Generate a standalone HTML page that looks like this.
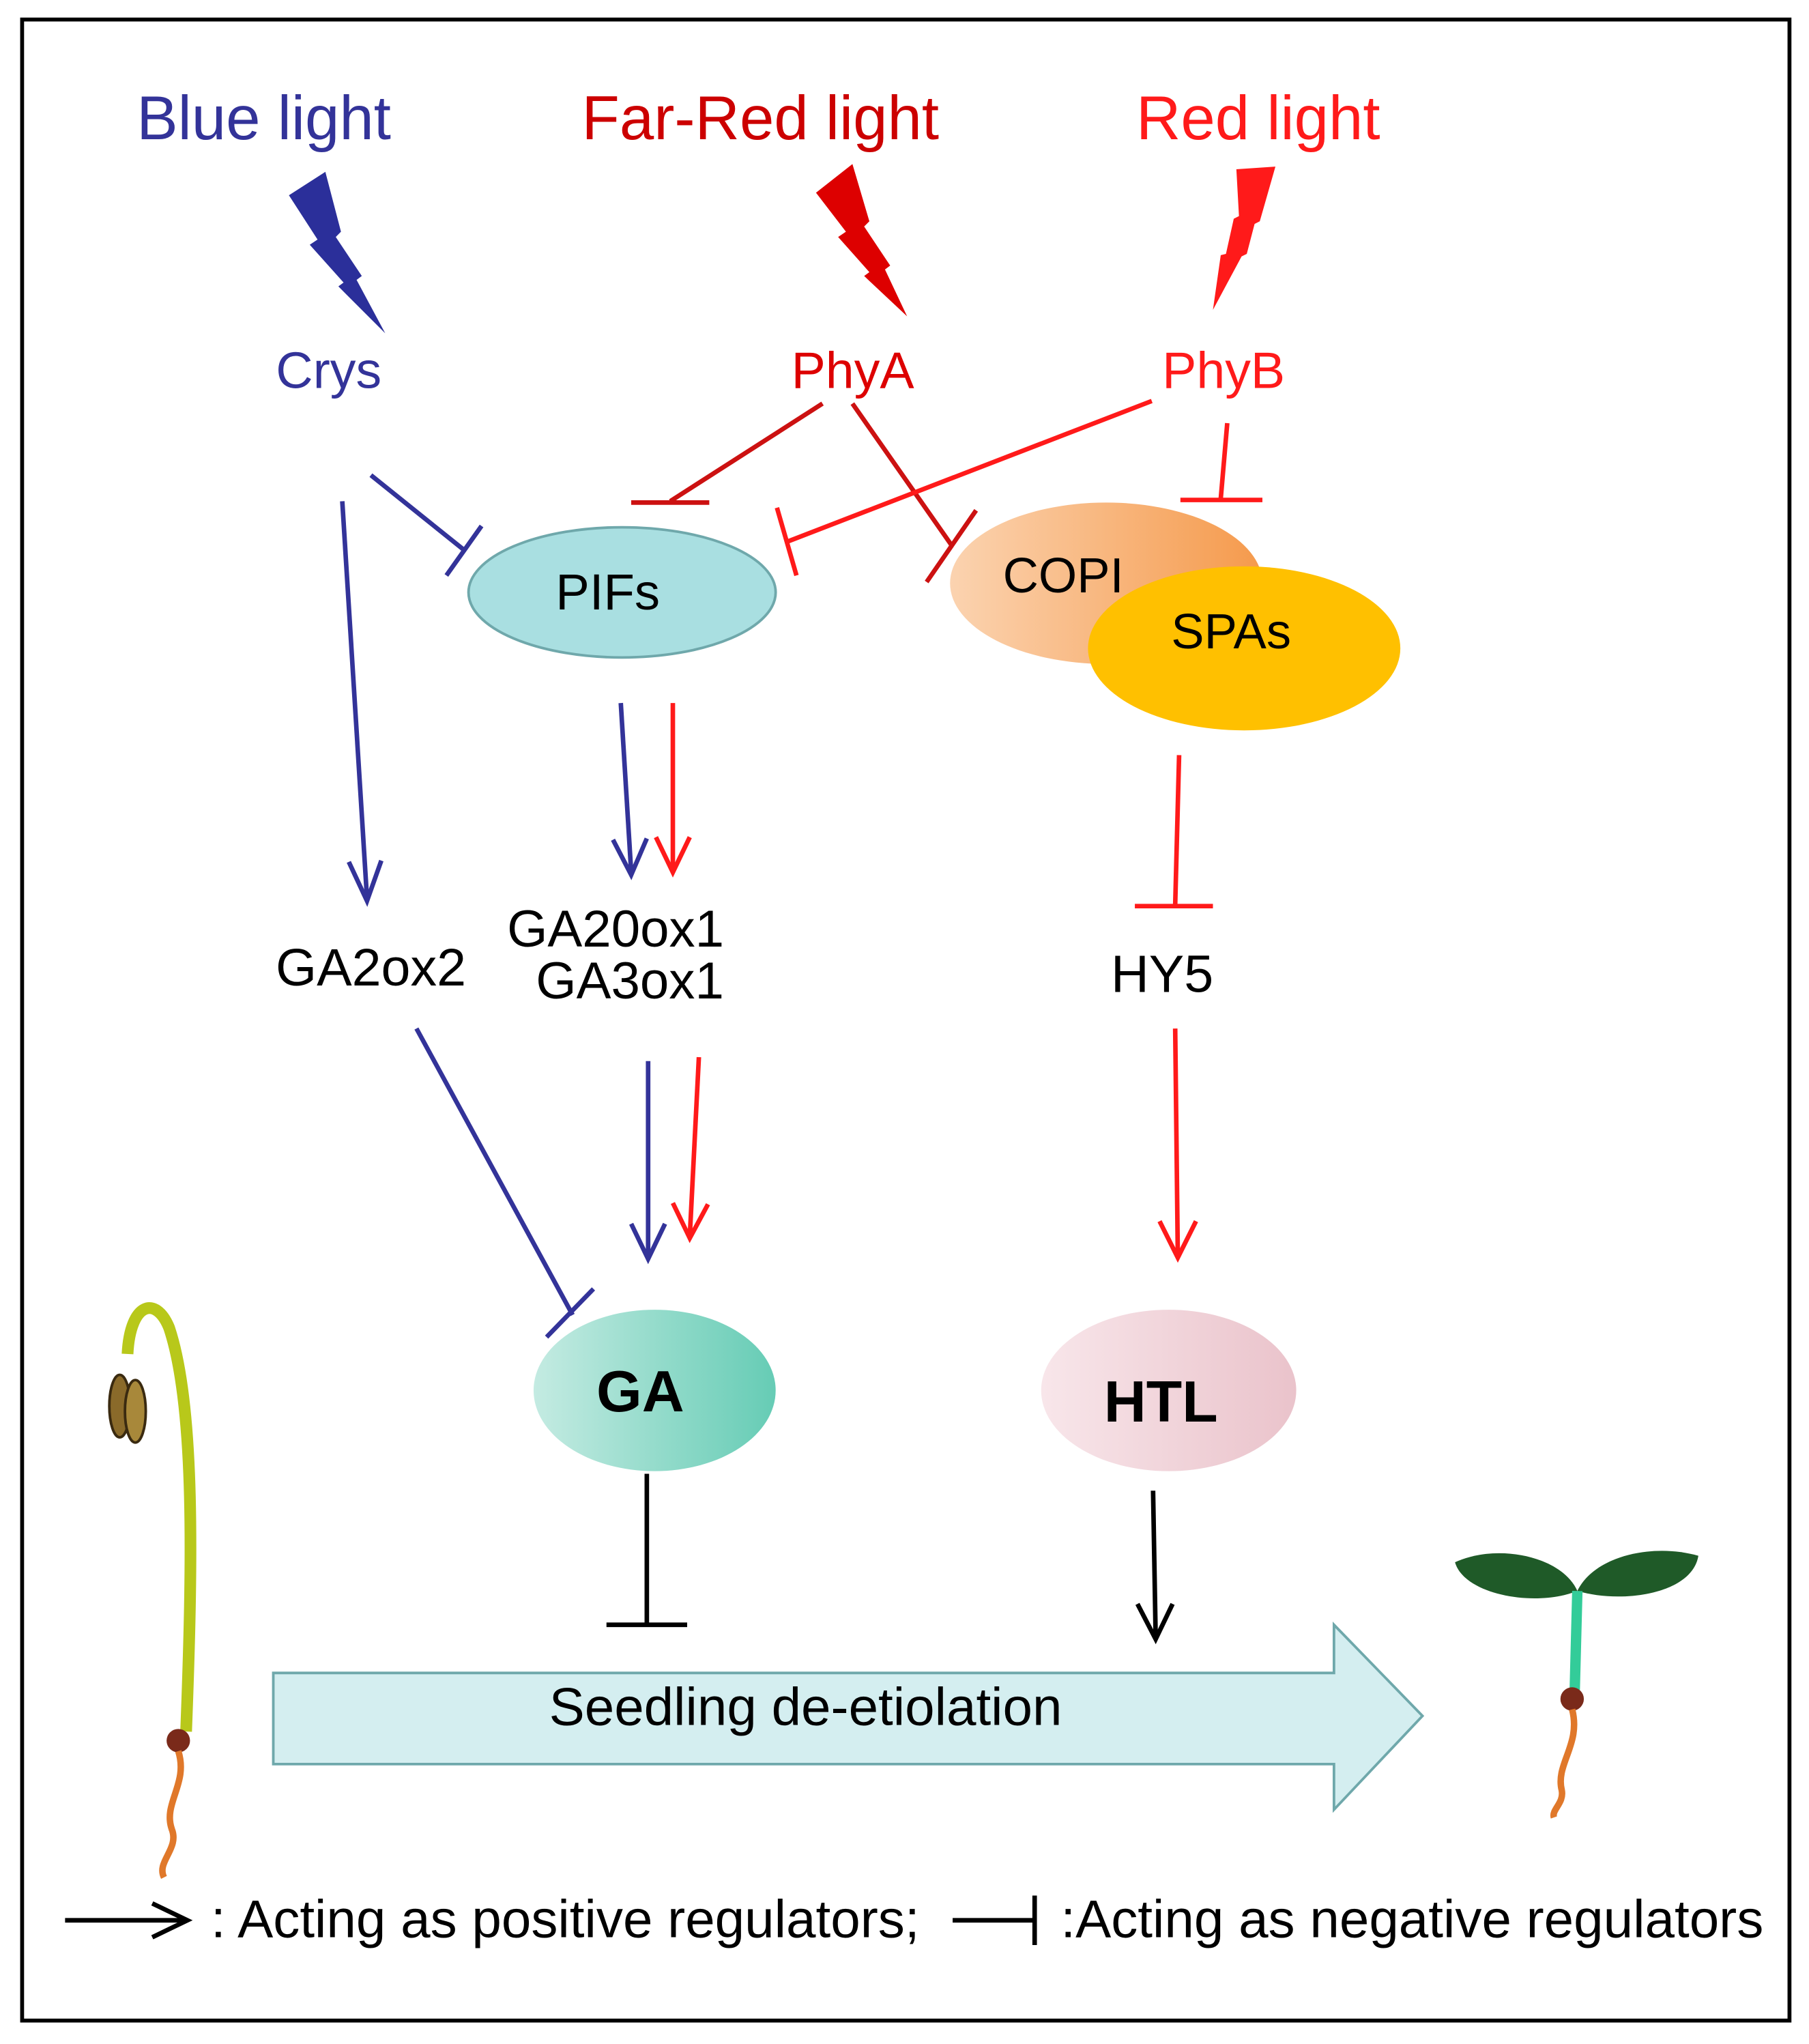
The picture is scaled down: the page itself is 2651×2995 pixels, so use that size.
<!DOCTYPE html>
<html><head><meta charset="utf-8"><style>
html,body{margin:0;padding:0;background:#fff;}
svg{display:block;}
text{font-family:"Liberation Sans",sans-serif;}
</style></head><body>
<svg width="2651" height="2995" viewBox="0 0 1390 1570" preserveAspectRatio="none" xmlns="http://www.w3.org/2000/svg">
<defs>
<linearGradient id="cop" x1="0" y1="0" x2="1" y2="0"><stop offset="0" stop-color="#fbd3b0"/><stop offset="1" stop-color="#f59a4c"/></linearGradient>
<linearGradient id="ga" x1="0" y1="0" x2="1" y2="0"><stop offset="0" stop-color="#c4ebe2"/><stop offset="1" stop-color="#66ccb5"/></linearGradient>
<linearGradient id="htl" x1="0" y1="0" x2="1" y2="0"><stop offset="0" stop-color="#f8e6ea"/><stop offset="1" stop-color="#eac3cb"/></linearGradient>
</defs>
<rect x="17" y="15" width="1358" height="1537" fill="#fff" stroke="#000" stroke-width="3"/>

<text x="105" y="107" font-size="47.5" fill="#333399">Blue light</text>
<text x="447" y="107" font-size="47.5" fill="#cc0000">Far-Red light</text>
<text x="873" y="107" font-size="47.5" fill="#ff1a1a">Red light</text>

<polygon points="222,150 250,132 262,178 258,182 278,212 274,215 296,256 260,220 264,217 238,188 244,184" fill="#2b2f9a"/>
<polygon points="627,148 655,126 668,170 664,174 684,204 680,207 697,243 664,212 668,209 644,182 650,178" fill="#dd0000"/>
<polygon points="950,130 980,128 968,170 964,172 958,195 954,197 932,238 938,196 942,195 948,168 952,166" fill="#ff1a1a"/>

<text x="212" y="298" font-size="39.5" fill="#333399">Crys</text>
<text x="608" y="298" font-size="39.5" fill="#dd0000">PhyA</text>
<text x="893" y="298" font-size="39.5" fill="#ff1a1a">PhyB</text>

<ellipse cx="478" cy="455" rx="118" ry="50" fill="#a9dfe1" stroke="#6fa8ab" stroke-width="2"/>
<text x="467" y="468" font-size="39" text-anchor="middle" fill="#000">PIFs</text>
<ellipse cx="850" cy="448" rx="120" ry="62" fill="url(#cop)"/>
<text x="817" y="455" font-size="38" text-anchor="middle" fill="#000">COPI</text>
<ellipse cx="956" cy="498" rx="120" ry="63" fill="#ffc000"/>
<text x="946" y="498" font-size="38" text-anchor="middle" fill="#000">SPAs</text>

<g fill="none" stroke-width="3.5">
<line x1="285" y1="365" x2="356" y2="422" stroke="#333399"/>
<line x1="343" y1="442" x2="370" y2="404" stroke="#333399"/>
<line x1="263" y1="385" x2="282" y2="690" stroke="#333399"/>
<path d="M268,662 L282,692 L293,661" stroke="#333399"/>

<line x1="632" y1="310" x2="515" y2="385" stroke="#cc1111"/>
<line x1="485" y1="386" x2="545" y2="386" stroke="#cc1111"/>
<line x1="655" y1="310" x2="732" y2="420" stroke="#cc1111"/>
<line x1="712" y1="447" x2="750" y2="392" stroke="#cc1111"/>

<line x1="885" y1="308" x2="605" y2="416" stroke="#ff1a1a"/>
<line x1="597" y1="390" x2="612" y2="442" stroke="#ff1a1a"/>
<line x1="943" y1="325" x2="938" y2="383" stroke="#ff1a1a"/>
<line x1="907" y1="384" x2="970" y2="384" stroke="#ff1a1a"/>

<line x1="477" y1="540" x2="485" y2="670" stroke="#333399"/>
<path d="M471,645 L485,672 L497,644" stroke="#333399"/>
<line x1="517" y1="540" x2="517" y2="670" stroke="#ff1a1a"/>
<path d="M504,643 L517,670 L530,643" stroke="#ff1a1a"/>

<line x1="498" y1="815" x2="498" y2="966" stroke="#333399"/>
<path d="M485,940 L498,967 L511,940" stroke="#333399"/>
<line x1="537" y1="812" x2="530" y2="950" stroke="#ff1a1a"/>
<path d="M517,924 L530,951 L544,925" stroke="#ff1a1a"/>

<line x1="320" y1="790" x2="440" y2="1010" stroke="#333399"/>
<line x1="420" y1="1027" x2="456" y2="990" stroke="#333399"/>

<line x1="906" y1="580" x2="903" y2="695" stroke="#ff1a1a"/>
<line x1="872" y1="696" x2="932" y2="696" stroke="#ff1a1a"/>
<line x1="903" y1="790" x2="905" y2="965" stroke="#ff1a1a"/>
<path d="M891,938 L905,966 L919,938" stroke="#ff1a1a"/>

<line x1="497" y1="1132" x2="497" y2="1248" stroke="#000"/>
<line x1="466" y1="1248" x2="528" y2="1248" stroke="#000"/>
<line x1="886" y1="1145" x2="888" y2="1258" stroke="#000"/>
<path d="M874,1232 L888,1259 L901,1232" stroke="#000"/>

<line x1="50" y1="1475" x2="143" y2="1475" stroke="#000"/>
<path d="M117,1462 L144,1475 L117,1488" stroke="#000"/>
<line x1="732" y1="1475" x2="795" y2="1475" stroke="#000"/>
<line x1="795" y1="1456" x2="795" y2="1494" stroke="#000"/>
</g>

<text x="473" y="727" font-size="40" text-anchor="middle" fill="#000">GA20ox1</text>
<text x="484" y="767" font-size="40" text-anchor="middle" fill="#000">GA3ox1</text>
<text x="285" y="757" font-size="40.5" text-anchor="middle" fill="#000">GA2ox2</text>
<text x="893" y="762" font-size="40.5" text-anchor="middle" fill="#000">HY5</text>

<ellipse cx="503" cy="1068" rx="93" ry="62" fill="url(#ga)"/>
<text x="492" y="1084" font-size="45" font-weight="bold" text-anchor="middle" fill="#000">GA</text>
<ellipse cx="898" cy="1068" rx="98" ry="62" fill="url(#htl)"/>
<text x="892" y="1092" font-size="45" font-weight="bold" text-anchor="middle" fill="#000">HTL</text>

<polygon points="210,1285 1025,1285 1025,1248 1093,1318 1025,1390 1025,1355 210,1355" fill="#d4eef0" stroke="#6fa8ab" stroke-width="2"/>
<text x="619" y="1325" font-size="41" text-anchor="middle" fill="#000">Seedling de-etiolation</text>

<text x="162" y="1488" font-size="41" fill="#000">: Acting as positive regulators;</text>
<text x="815" y="1488" font-size="41" fill="#000">:Acting as negative regulators</text>

<path d="M143,1330 C148,1200 150,1080 130,1020 C120,995 100,1000 98,1040" fill="none" stroke="#b8c81a" stroke-width="9"/>
<ellipse cx="92" cy="1080" rx="8" ry="24" fill="#8a6a2a" stroke="#3a2a10" stroke-width="2"/>
<ellipse cx="104" cy="1084" rx="8" ry="24" fill="#a8883a" stroke="#3a2a10" stroke-width="2"/>
<circle cx="137" cy="1337" r="9" fill="#7a2a1a"/>
<path d="M137,1345 C145,1370 125,1385 132,1405 C138,1420 120,1430 126,1442" fill="none" stroke="#e0782a" stroke-width="5"/>

<path d="M1118,1200 C1150,1185 1200,1195 1212,1222 C1180,1235 1125,1225 1118,1200 Z" fill="#1f5a28"/>
<path d="M1305,1195 C1270,1185 1225,1195 1212,1222 C1245,1232 1300,1225 1305,1195 Z" fill="#1f5a28"/>
<line x1="1212" y1="1222" x2="1210" y2="1298" stroke="#33cc99" stroke-width="8"/>
<circle cx="1208" cy="1305" r="9" fill="#7a2a1a"/>
<path d="M1208,1313 C1215,1340 1195,1355 1200,1375 C1202,1385 1192,1390 1194,1396" fill="none" stroke="#e0782a" stroke-width="5"/>
</svg>
</body></html>
